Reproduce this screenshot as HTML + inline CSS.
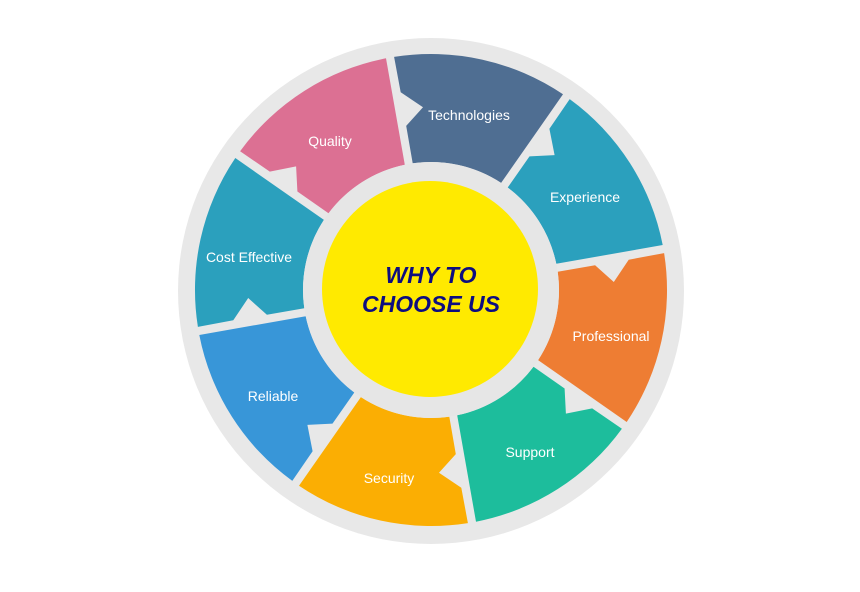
<!DOCTYPE html>
<html><head><meta charset="utf-8"><style>
html,body{margin:0;padding:0;background:#fff;width:860px;height:592px;overflow:hidden}
svg{display:block}
.l{font-family:"Liberation Sans",sans-serif;font-size:14px;fill:#fff;text-anchor:middle}
.c{font-family:"Liberation Sans",sans-serif;font-size:23px;font-weight:bold;font-style:italic;fill:#0d0d80;text-anchor:middle}
</style></head><body>
<svg id="s" width="860" height="592" viewBox="0 0 860 592">
<circle cx="431" cy="291" r="253" fill="#e8e8e8"/>
<g id="segs"></g>
<circle cx="431" cy="290" r="128" fill="#e6e6e6"/>
<circle cx="430" cy="289" r="108" fill="#ffea00"/>
<text class="c" x="431" y="283">WHY TO</text>
<text class="c" x="431" y="312">CHOOSE US</text>
<text class="l" x="469" y="120">Technologies</text>
<text class="l" x="585" y="202">Experience</text>
<text class="l" x="611" y="341">Professional</text>
<text class="l" x="530" y="457">Support</text>
<text class="l" x="389" y="483">Security</text>
<text class="l" x="273" y="401">Reliable</text>
<text class="l" x="249" y="262">Cost Effective</text>
<text class="l" x="330" y="146">Quality</text>
</svg>
<script>
(function(){
var cx=431,cy=290,R=236,ri=128;
var cols=["#4f6e92","#2ba0bd","#ee7d33","#1dbd9c","#fbae03","#3896d8","#2ba0bd","#dc7093"];
function p(r,t){t=t*Math.PI/180;return (cx+r*Math.sin(t)).toFixed(1)+","+(cy-r*Math.cos(t)).toFixed(1);}
var g=document.getElementById("segs"),h="";
for(var i=0;i<8;i++){
 var a0=-10+45*i, a1=a0+45;
 var so=a0+1.0, eo=a1-1.0, si=a0+1.8, ei=a1-1.8;
 var d="M"+p(R,so)+" A"+R+","+R+" 0 0 1 "+p(R,eo)+" L"+p(ri,ei)+" A"+ri+","+ri+" 0 0 0 "+p(ri,si)+
 " L"+p(166,a0+1.4)+" L"+p(183,a0+7.5)+" L"+p(200,a0+1.3)+" Z";
 h+='<path d="'+d+'" fill="'+cols[i]+'"/>';
}
g.innerHTML=h;
})();
</script>
</body></html>
